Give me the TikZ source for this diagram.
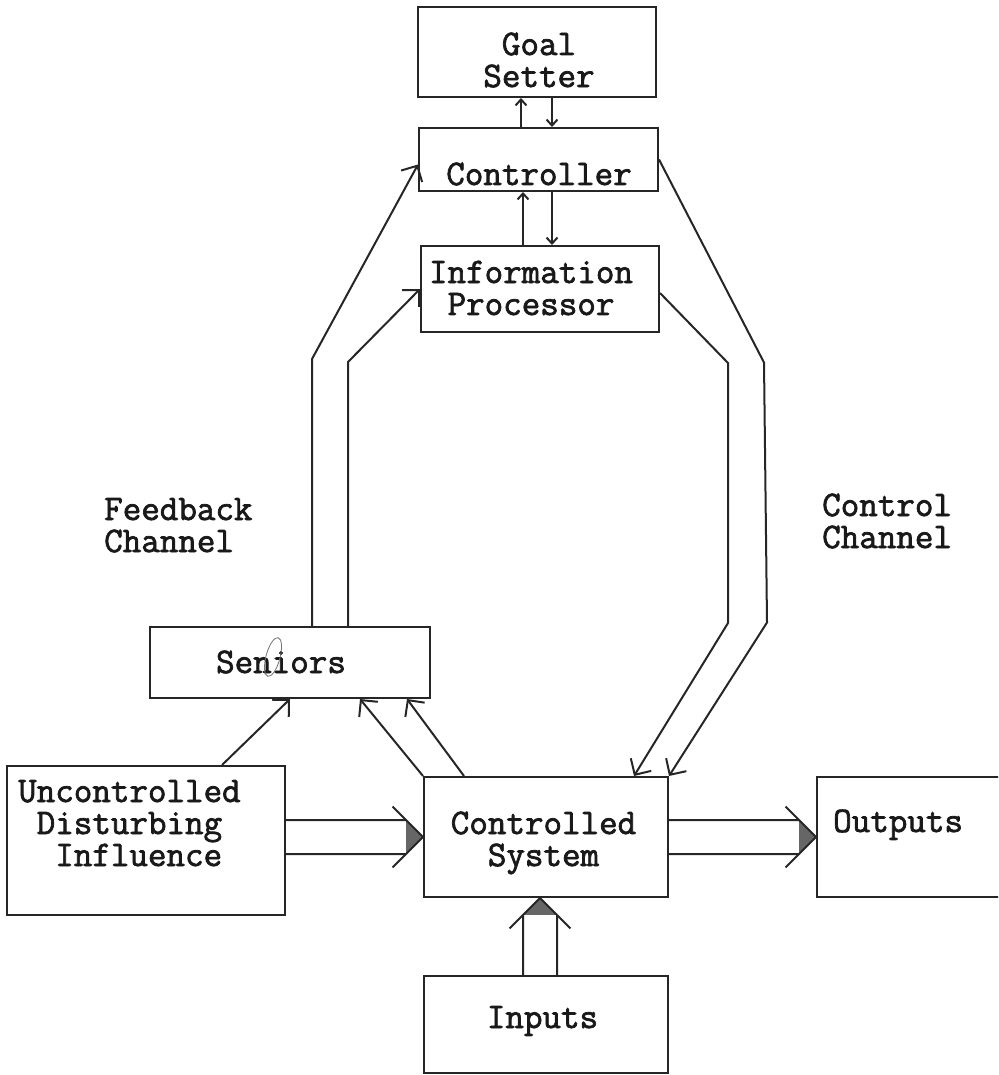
\documentclass[tikz,border=0pt]{standalone}
\usepackage{fontspec}
\setmonofont{Latin Modern Mono}[FakeBold=2]
\usetikzlibrary{calc,arrows.meta}

% Broad double-line flow arrow with a shaded chevron head: #1 tail, #2 tip
\newcommand\wideflow[2]{%
  \fill[black!60] (#2) -- ($(#2)!24pt!45:(#1)$) -- ($(#2)!24pt!-45:(#1)$) -- cycle;
  \draw[ink] ($(#1)!17pt!90:(#2)$) -- ($(#2)!24.04pt!-45:(#1)$);
  \draw[ink] ($(#1)!17pt!-90:(#2)$) -- ($(#2)!24.04pt!45:(#1)$);
  \draw[ink, line join=miter] ($(#2)!43pt!45:(#1)$) -- (#2) -- ($(#2)!43pt!-45:(#1)$);
}
% Typed lines, first baseline on the anchor
\newcommand\typedc[1]{\begin{tabular}[t]{@{}c@{}}#1\end{tabular}}
\newcommand\typedl[1]{\begin{tabular}[t]{@{}l@{}}#1\end{tabular}}

\begin{document}
\begin{tikzpicture}[x=1pt,y=-1pt,
  ink/.style={draw=black!85, line width=2pt},
  box/.style={ink, rectangle, inner sep=0pt},
  txt/.style={inner sep=0pt, font=\ttfamily\fontsize{36}{32}\selectfont, text=black!90},
  flowarrow/.style={ink, -{Straight Barb[length=12pt,width=24pt]}},
  smallarrow/.style={ink, -{Straight Barb[length=6pt,width=11pt]}}
]
\useasboundingbox (0,0) rectangle (998,1075);
\clip (0,0) rectangle (998,1075);

% blocks
\node[box, minimum width=238pt, minimum height=90pt] (goal) at (537,52) {};
\node[box, minimum width=239pt, minimum height=63pt] (ctrl) at (538.5,159.5) {};
\node[box, minimum width=238pt, minimum height=86pt] (info) at (540,289) {};
\node[box, minimum width=280pt, minimum height=71pt] (sen) at (290,662.5) {};
\node[box, minimum width=278pt, minimum height=149pt] (dist) at (146,840.5) {};
\node[box, minimum width=244pt, minimum height=120pt] (sys) at (546,837) {};
\node[box, minimum width=223pt, minimum height=120pt] (out) at (928.5,837) {};
\node[box, minimum width=244pt, minimum height=97pt] (inp) at (546,1024.5) {};

% block texts
\node[txt, anchor=base] (goalT) at (539,55) {\typedc{Goal\\Setter}};
\node[txt, anchor=base] (ctrlT) at (539,185) {Controller};
\node[txt, anchor=base] (infoT) at (531,283) {\typedc{Information\\Processor}};
\node[txt, anchor=base] (senT) at (281,673) {Seniors};
\node[txt, anchor=base west] (distT) at (18,802)
  {\typedl{Uncontrolled\\\hphantom{X}Disturbing\\\hphantom{XX}Influence}};
\node[txt, anchor=base] (sysT) at (543.5,834) {\typedc{Controlled\\System}};
\node[txt, anchor=base west] (outT) at (833,832) {Outputs};
\node[txt, anchor=base] (inpT) at (542.5,1028) {Inputs};

% channel labels
\node[txt, anchor=base west] (fbT) at (104,520) {\typedl{Feedback\\Channel}};
\node[txt, anchor=base west] (ccT) at (822,516) {\typedl{Control\\Channel}};

% pen mark over the i of Seniors
\draw[black!55, line width=0.8pt, rotate around={-15:(273,657)}] (273,657) ellipse (7 and 20);

% goal setter / controller / information processor exchange
\draw[smallarrow] ([xshift=-17.5pt]ctrl.north) -- ([xshift=-16pt]goal.south);
\draw[smallarrow] ([xshift=15pt]goal.south) -- ([xshift=13.5pt]ctrl.north);
\draw[smallarrow] ([xshift=-17pt]info.north) -- ([xshift=-15.5pt]ctrl.south);
\draw[smallarrow] ([xshift=13.5pt]ctrl.south) -- ([xshift=12pt]info.north);

% feedback channel
\draw[flowarrow] ([xshift=22pt]sen.north) -- ++(0,-267) -- ([yshift=-5pt]ctrl.west);
\draw[flowarrow] ([xshift=58pt]sen.north) -- ++(0,-264) -- (info.west);

% control channel
\draw[flowarrow] (ctrl.east) -- ++(105,203) -- ++(3,260) -- (sys.north east);
\draw[flowarrow] ([yshift=-4pt]info.east) -- ++(68,70) -- ++(0,260) -- ([xshift=-35pt]sys.north east);

% sensing
\draw[flowarrow] ([xshift=76pt]dist.north) -- (sen.south);
\draw[flowarrow] (sys.north west) -- ([xshift=70pt]sen.south);
\draw[flowarrow] ([xshift=41pt]sys.north west) -- ([xshift=117pt]sen.south);

% broad flows
\coordinate (dTail) at (dist.east |- sys.west);
\coordinate (iTail) at ([xshift=-6pt]inp.north);
\coordinate (iTip) at ([xshift=-6pt]sys.south);
\wideflow{dTail}{sys.west}
\wideflow{sys.east}{out.west}
\wideflow{iTail}{iTip}
\end{tikzpicture}
\end{document}
